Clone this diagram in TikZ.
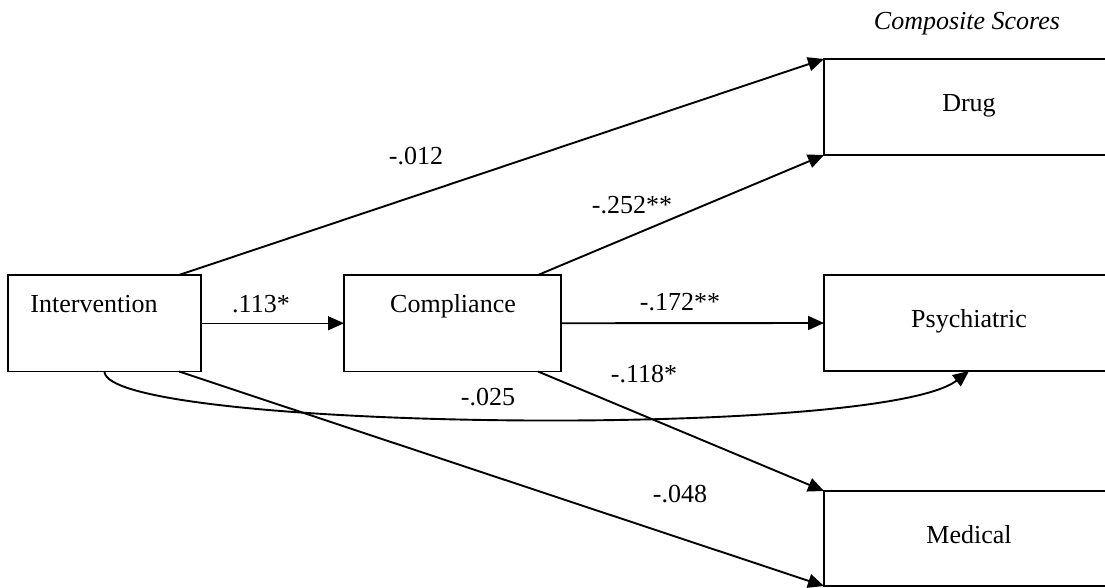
\documentclass[tikz,border=0pt]{standalone}
\usepackage{fontspec}
\setmainfont{Liberation Serif}
\usetikzlibrary{arrows.meta,calc}
\begin{document}
\begin{tikzpicture}[x=1pt,y=-1pt,
  box/.style={draw,line width=1.9pt,inner sep=0pt,outer sep=0pt},
  lbl/.style={anchor=base,inner sep=0pt,font=\fontsize{26}{30}\selectfont},
  conn/.style={line width=1.9pt,-{Triangle[length=16pt,width=14pt]}},
  thinconn/.style={line width=0.9pt,-{Triangle[length=16pt,width=14pt]}}]
\useasboundingbox (0,0) rectangle (1105,588);
\clip (0,0) rectangle (1105,588);
% boxes
\node[box,minimum width=193pt,minimum height=96.5pt] (int) at (104.5,323.25) {};
\node[box,minimum width=217pt,minimum height=96.5pt] (comp) at (452.5,323.25) {};
\node[box,minimum width=290pt,minimum height=96pt] (drug) at (969,107) {};
\node[box,minimum width=290pt,minimum height=96pt] (psych) at (969,323) {};
\node[box,minimum width=290pt,minimum height=95pt] (med) at (969,538.5) {};
% box texts
\node[lbl] (intT) at (94,312) {Intervention};
\node[lbl] (compT) at (453,312) {Compliance};
\node[lbl] (drugT) at (969,112) {Drug};
\node[lbl] (psychT) at (969,327) {Psychiatric};
\node[lbl] (medT) at (969,543) {Medical};
\node[lbl] (head) at (967,30) {\itshape Composite Scores};
% connectors
\draw[conn] ([xshift=-22pt]int.north east) -- (drug.north west);
\draw[conn] ([xshift=-23pt]comp.north east) -- (drug.south west);
\draw[thinconn] (int.east) -- (comp.west);
\draw[conn] (comp.east) -- (psych.west);
\draw[conn] ([xshift=-23pt]comp.south east) -- (med.north west);
\draw[conn] ([xshift=-22pt]int.south east) -- (med.south west);
\draw[conn] (int.south) .. controls (105,430) and (880,440) .. (psych.south);
% labels
\node[lbl] (l012) at (416,165) {-.012};
\node[lbl] (l252) at (632,213) {-.252**};
\node[lbl] (l113) at (261,312) {.113*};
\node[lbl] (l172) at (680,310) {-.172**};
\node[lbl] (l118) at (644,382) {-.118*};
\node[lbl] (l025) at (488,405) {-.025};
\node[lbl] (l048) at (680,502) {-.048};
\end{tikzpicture}
\end{document}
